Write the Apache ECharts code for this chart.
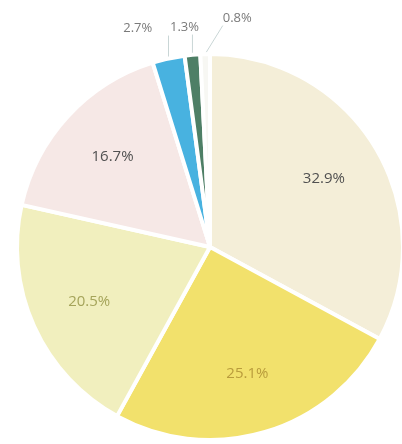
<!DOCTYPE html>
<html>
<head>
<meta charset="utf-8">
<script src="https://cdn.jsdelivr.net/npm/echarts@6/dist/echarts.min.js"></script>
<style>
  html, body { margin: 0; padding: 0; background: #ffffff; }
  #chart { width: 402px; height: 444px; }
</style>
</head>
<body>
<div id="chart"></div>
<script>
// Shares in percent, clockwise from 12 o'clock
const categories = ['A', 'B', 'C', 'D', 'E', 'F', 'G'];
const shares = [32.9, 25.1, 20.5, 16.7, 2.7, 1.3, 0.8];

const sliceColors = ['#f4eed8', '#f2e16c', '#f1efbe', '#f6e8e6', '#48b2e0', '#4e7f66', '#f7f7f3'];
const labelColors = ['#505050', '#b99c3c', '#a5a45a', '#505050', '#7a7a7a', '#7a7a7a', '#7a7a7a'];
// nudges for the small outside labels so they sit in a row above the pie
const outsideNudgeX = [0, 0, 0, 0, 50, 67, 52];
const outsideNudgeY = [0, 0, 0, 0, -42, -28, -22];
const SMALL = 5; // slices below this share get an outside label

const chart = echarts.init(document.getElementById('chart'));

const pieData = categories.map((name, i) => ({
  name,
  value: shares[i],
  itemStyle: { color: sliceColors[i] },
  label: {
    show: shares[i] < SMALL,
    color: labelColors[i]
  },
  labelLine: { show: shares[i] < SMALL }
}));

// transparent ring used only to place the big-slice labels further out
const ringData = categories.map((name, i) => ({
  name,
  value: shares[i],
  label: { show: shares[i] >= SMALL, color: labelColors[i] }
}));

// move a small label and redraw its leader from the slice edge up to it
function nudgeLabel(p) {
  const i = p.dataIndex;
  const dx = outsideNudgeX[i];
  const dy = outsideNudgeY[i];
  const out = { dx, dy };
  if (p.labelLinePoints && p.labelRect) {
    const start = p.labelLinePoints[0];
    const left = p.labelRect.x + dx;
    const bottom = p.labelRect.y + dy + p.labelRect.height;
    const end = [Math.max(start[0], left), bottom + 1];
    out.labelLinePoints = [start, end, end];
  }
  return out;
}

chart.setOption({
  animation: false,
  series: [
    {
      type: 'pie',
      center: [210, 247],
      radius: [0, 193],
      startAngle: 90,
      clockwise: true,
      data: pieData,
      itemStyle: { borderColor: '#ffffff', borderWidth: 4 },
      label: {
        position: 'outside',
        formatter: p => p.value.toFixed(1) + '%',
        fontFamily: 'Open Sans',
        fontSize: 13
      },
      labelLine: {
        length: 14,
        length2: 0,
        lineStyle: { color: '#c9d6d6', width: 1 }
      },
      labelLayout: nudgeLabel,
      emphasis: { disabled: true }
    },
    {
      type: 'pie',
      center: [210, 247],
      radius: [66, 193],
      startAngle: 90,
      clockwise: true,
      silent: true,
      z: 5,
      data: ringData,
      itemStyle: { color: 'rgba(0,0,0,0)', borderWidth: 0 },
      label: {
        position: 'inside',
        formatter: p => p.value.toFixed(1) + '%',
        fontFamily: 'Open Sans',
        fontSize: 15
      },
      labelLine: { show: false },
      emphasis: { disabled: true }
    }
  ]
});
</script>
</body>
</html>
